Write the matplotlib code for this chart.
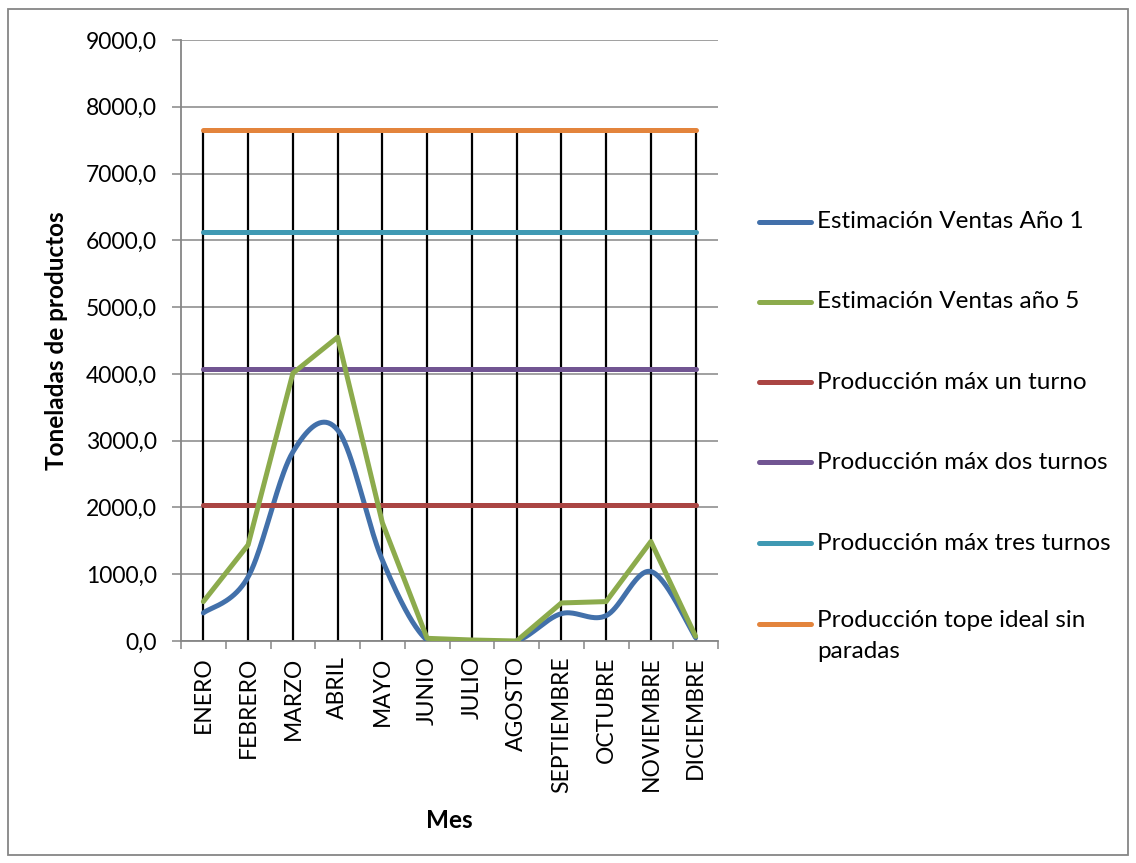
import numpy as np
import matplotlib
matplotlib.use("Agg")
import matplotlib.pyplot as plt
from matplotlib.lines import Line2D
from matplotlib.patches import Rectangle
from matplotlib.ticker import FuncFormatter, MultipleLocator, FixedLocator

# ---------------- data ----------------
meses = ["ENERO", "FEBRERO", "MARZO", "ABRIL", "MAYO", "JUNIO", "JULIO",
         "AGOSTO", "SEPTIEMBRE", "OCTUBRE", "NOVIEMBRE", "DICIEMBRE"]
ventas_ano1 = [420, 960, 2830, 3160, 1210, 10, 0, 0, 410, 380, 1040, 50]
ventas_ano5 = [590, 1440, 4010, 4550, 1770, 40, 15, 0, 570, 590, 1490, 70]
prod_un_turno = [2040, 2040, 2040, 2040, 2040, 2040, 2040, 2040, 2040, 2040, 2040, 2040]
prod_dos_turnos = [4080, 4080, 4080, 4080, 4080, 4080, 4080, 4080, 4080, 4080, 4080, 4080]
prod_tres_turnos = [6120, 6120, 6120, 6120, 6120, 6120, 6120, 6120, 6120, 6120, 6120, 6120]
prod_tope = [7650, 7650, 7650, 7650, 7650, 7650, 7650, 7650, 7650, 7650, 7650, 7650]

etiquetas = ["Estimación Ventas Año 1", "Estimación Ventas año 5",
             "Producción máx un turno", "Producción máx dos turnos",
             "Producción máx tres turnos", "Producción tope ideal sin\nparadas"]
colores = ["#4270AA", "#8CAB4C", "#AA4543", "#715592", "#3F99B3", "#E3843C"]

FONT = "Lato"
plt.rcParams["font.family"] = [FONT, "DejaVu Sans"]
TICK_FS = 16.5
LEG_FS = 17.5
LAB_FS = 17.5


def smooth(xv, yv, n=40):
    """Excel-like (Catmull-Rom / Bezier) smoothing through the points."""
    p = np.column_stack([xv, yv]).astype(float)
    m = len(p)
    out = []
    for i in range(m - 1):
        p0 = p[i - 1] if i > 0 else p[i]
        p1 = p[i]
        p2 = p[i + 1]
        p3 = p[i + 2] if i + 2 < m else p[i + 1]
        c1 = p1 + (p2 - p0) / 6.0
        c2 = p2 - (p3 - p1) / 6.0
        t = np.linspace(0, 1, n)[:, None]
        seg = ((1 - t) ** 3) * p1 + 3 * ((1 - t) ** 2) * t * c1 + 3 * (1 - t) * t ** 2 * c2 + t ** 3 * p2
        if i > 0:
            seg = seg[1:]
        out.append(seg)
    out = np.vstack(out)
    return out[:, 0], out[:, 1]


fig = plt.figure(figsize=(11.36, 8.63), dpi=100)
W, H = 1136, 863
ax = fig.add_axes([181 / W, 1 - 641 / H, (718 - 181) / W, (641 - 40) / H])

x = np.arange(len(meses))
series = [ventas_ano1, ventas_ano5, prod_un_turno, prod_dos_turnos, prod_tres_turnos, prod_tope]

# drop lines
tops = np.max(np.array(series), axis=0)
ax.vlines(x, 0, tops, color="black", lw=1.6, zorder=2)

lw = 3.6
for i, (s, c) in enumerate(zip(series, colores)):
    if i == 0:
        xs, ys = smooth(x, s)
    else:
        xs, ys = x, np.array(s)
    ax.plot(xs, ys, color=c, lw=lw, solid_capstyle="round", solid_joinstyle="round",
            zorder=3 + (1 if i == 1 else 0))

ax.set_xlim(-0.5, len(meses) - 0.5)
ax.set_ylim(0, 9000)
ax.yaxis.set_major_locator(MultipleLocator(1000))
ax.yaxis.set_major_formatter(FuncFormatter(lambda v, p: f"{v:.1f}".replace(".", ",")))
ax.grid(axis="y", color="#868686", lw=1.1, zorder=1)
ax.set_axisbelow(True)

ax.set_xticks(x)
ax.set_xticklabels(meses, rotation=90, fontsize=TICK_FS, va="top", ha="center")
ax.tick_params(axis="x", which="major", length=0, pad=11)
ax.xaxis.set_minor_locator(FixedLocator(np.arange(-0.5, len(meses), 1.0)))
ax.tick_params(axis="x", which="minor", length=6, width=1.1, color="#868686", direction="out")
ax.tick_params(axis="y", length=6.5, width=1.1, color="#868686", pad=11, labelsize=TICK_FS)

for sp in ["top", "right"]:
    ax.spines[sp].set_visible(False)
for sp in ["left", "bottom"]:
    ax.spines[sp].set_color("#868686")
    ax.spines[sp].set_linewidth(1.3)

ax.set_ylabel("Toneladas de productos", fontsize=LAB_FS, fontweight="bold")
ax.yaxis.set_label_coords((57 - 181) / 537, 0.5)
ax.yaxis.label.set_va("center")
ax.set_xlabel("Mes", fontsize=LAB_FS, fontweight="bold")
ax.xaxis.set_label_coords(0.5, (641 - 820) / 601)
ax.xaxis.label.set_va("center")

# legend (manual, Excel style)
leg_y = [222, 302, 382, 462, 543, 624]
for lab, c, yy in zip(etiquetas, colores, leg_y):
    fy = 1 - yy / H
    fig.add_artist(Line2D([759 / W, 811 / W], [fy, fy], color=c, lw=lw,
                          solid_capstyle="round", transform=fig.transFigure))
    if "\n" in lab:
        fig.text(817 / W, 1 - (yy - 14) / H, lab, fontsize=LEG_FS, ha="left", va="top",
                 linespacing=1.6)
    else:
        fig.text(817 / W, fy, lab, fontsize=LEG_FS, ha="left", va="center")

# chart border
fig.add_artist(Rectangle((8 / W, 1 - 855 / H), (1128 - 8) / W, (855 - 9) / H,
                         transform=fig.transFigure, fill=False, edgecolor="#868686", lw=1.3))

fig.savefig("out.png", dpi=100)
